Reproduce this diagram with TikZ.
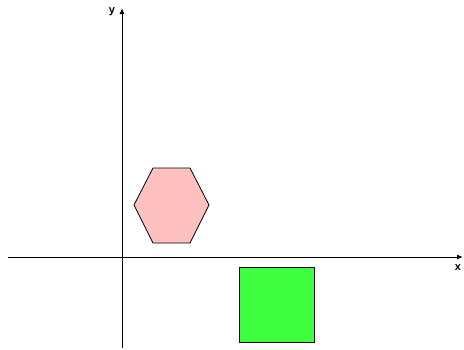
\documentclass[tikz,border=0pt]{standalone}
\usepackage{fontspec}
\setmainfont{Liberation Sans}
\usetikzlibrary{arrows.meta}
\definecolor{hexpink}{HTML}{FFC0C0}
\definecolor{sqgreen}{HTML}{40FF40}
\tikzset{
  axis/.style={line width=1pt,-{Latex[length=6pt,width=5pt]}},
  shapeline/.style={draw=black,line width=0.8pt,line join=round},
  lbl/.style={font=\fontsize{11}{12}\selectfont\bfseries,inner sep=0pt}
}
\begin{document}
\begin{tikzpicture}[x=1pt,y=-1pt]
\useasboundingbox (0,0) rectangle (464,349);
\coordinate (xs) at (8,257);
\coordinate (xe) at (463,257);
\coordinate (ys) at (122,348);
\coordinate (ye) at (122,8);
\draw[axis] (xs) -- (xe);
\draw[axis] (ys) -- (ye);
\node[lbl] (xl) at (458,268) {x};
\node[lbl] (yl) at (112,12) {y};
\filldraw[shapeline,fill=hexpink] (153,168) -- (190,168) -- (209,205) -- (190,243) -- (153,243) -- (134,205) -- cycle;
\filldraw[shapeline,fill=sqgreen] (239,267) rectangle (314,342);
\end{tikzpicture}
\end{document}
